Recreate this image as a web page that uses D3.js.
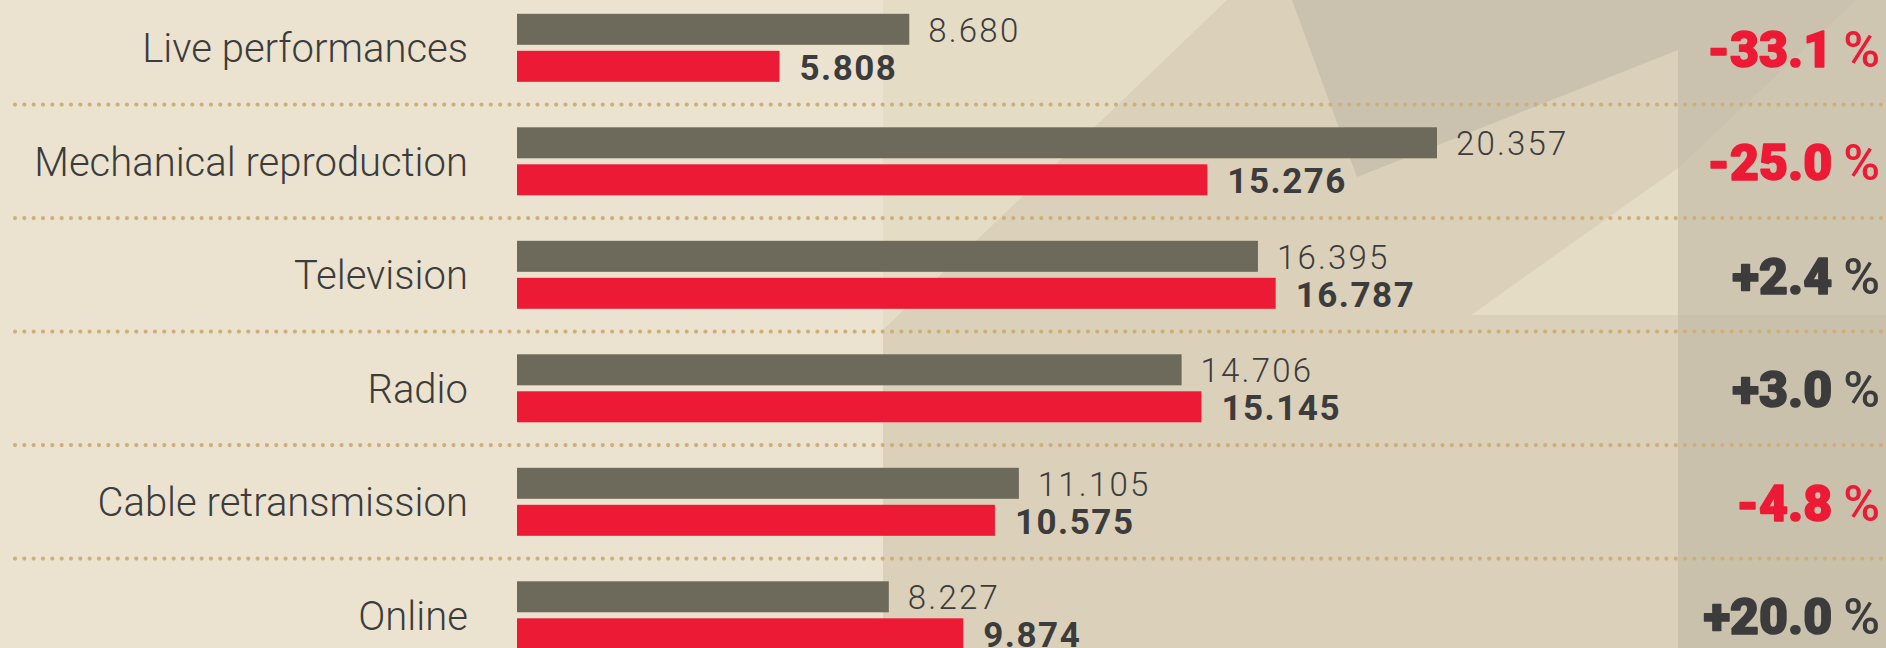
<!DOCTYPE html>
<html>
<head>
<meta charset="utf-8">
<script src="https://cdn.jsdelivr.net/npm/d3@7"></script>
<style>
  html, body { margin: 0; padding: 0; background: #ebe3d0; overflow: hidden; }
  svg { display: block; }
</style>
</head>
<body>
<div id="chart"></div>
<script>
// ---- data ----
const categories = ["Live performances", "Mechanical reproduction", "Television", "Radio", "Cable retransmission", "Online"];
const previousValues = [8.680, 20.357, 16.395, 14.706, 11.105, 8.227];
const currentValues  = [5.808, 15.276, 16.787, 15.145, 10.575, 9.874];
const changeLabels   = ["-33.1", "-25.0", "+2.4", "+3.0", "-4.8", "+20.0"];

const W = 1886, H = 648;
const svg = d3.select("#chart").append("svg").attr("width", W).attr("height", H);

// ---- background decoration ----
const bg = svg.append("g");
bg.append("rect").attr("width", W).attr("height", H).attr("fill", "#ebe3d0");
bg.append("rect").attr("x", 883).attr("width", W - 883).attr("height", H).attr("fill", "#dbd0ba");
const poly = (pts, fill) => bg.append("polygon").attr("points", pts.map(p => p.join(",")).join(" ")).attr("fill", fill);
poly([[883,0],[1227,0],[883,330]], "#e5dcc6");
bg.append("rect").attr("x", 1678).attr("width", W - 1678).attr("height", H).attr("fill", "#cac1ad");
poly([[1678,168],[1856,0],[1886,0],[1886,315],[1678,315]], "#cfc6b2");
poly([[1292,0],[1357,177],[1678,50],[1678,168],[1856,0]], "#cac2ae");
poly([[1471,315],[1678,315],[1678,168]], "#e5dcc6");

// ---- scales ----
const y = d3.scaleBand().domain(categories).range([-8.95, -8.95 + 113.5 * categories.length]).padding(0);
const x = d3.scaleLinear().domain([0, 20.357]).range([517, 1437]);
const fmt = d3.format(".3f");
const barH = 31;

const rows = categories.map((c, i) => ({
  cat: c, prev: previousValues[i], curr: currentValues[i], change: changeLabels[i]
}));

// ---- dotted separators ----
svg.append("g").selectAll("line").data(categories.slice(0, -1)).join("line")
  .attr("x1", 15).attr("x2", 1881)
  .attr("y1", d => y(d) + y.bandwidth()).attr("y2", d => y(d) + y.bandwidth())
  .attr("stroke", "#cbb07a").attr("stroke-width", 4.2)
  .attr("stroke-linecap", "round").attr("stroke-dasharray", "0 9.33");

const g = svg.append("g").selectAll("g").data(rows).join("g")
  .attr("transform", d => `translate(0,${y(d.cat) + y.bandwidth() / 2})`);

// category labels
g.append("text")
  .attr("x", 468).attr("y", 14.5)
  .attr("text-anchor", "end")
  .attr("font-family", "Roboto, sans-serif").attr("font-weight", 300)
  .attr("font-size", 40).attr("fill", "#3c3c3c")
  .text(d => d.cat);

// previous-year bars (grey)
g.append("rect")
  .attr("x", x(0)).attr("y", -34)
  .attr("width", d => x(d.prev) - x(0)).attr("height", barH)
  .attr("fill", "#6d6a5b");
// current-year bars (red)
g.append("rect")
  .attr("x", x(0)).attr("y", 3)
  .attr("width", d => x(d.curr) - x(0)).attr("height", barH)
  .attr("fill", "#ed1a35");

// value labels
g.append("text")
  .attr("x", d => x(d.prev) + 19).attr("y", -6)
  .attr("font-family", "Roboto, sans-serif").attr("font-weight", 300)
  .attr("font-size", 33).attr("letter-spacing", 2.2).attr("fill", "#3c3c3c")
  .text(d => fmt(d.prev));
g.append("text")
  .attr("x", d => x(d.curr) + 20).attr("y", 32)
  .attr("font-family", "Roboto, sans-serif").attr("font-weight", 700)
  .attr("font-size", 35).attr("letter-spacing", 1.5).attr("fill", "#3c3c3c")
  .text(d => fmt(d.curr));

// change labels
const ct = g.append("text")
  .attr("x", 1880).attr("y", 18.7)
  .attr("text-anchor", "end")
  .attr("font-family", "Roboto, sans-serif")
  .attr("font-size", 50)
  .attr("fill", d => d.change.startsWith("-") ? "#ed1a35" : "#3c3c3c");
ct.append("tspan").attr("font-weight", 900)
  .attr("stroke", d => d.change.startsWith("-") ? "#ed1a35" : "#3c3c3c")
  .attr("stroke-width", 1.6).attr("stroke-linejoin", "round")
  .text(d => d.change);
ct.append("tspan").attr("font-weight", 500).attr("dx", 11).attr("font-size", 50).text("%");
</script>
</body>
</html>
